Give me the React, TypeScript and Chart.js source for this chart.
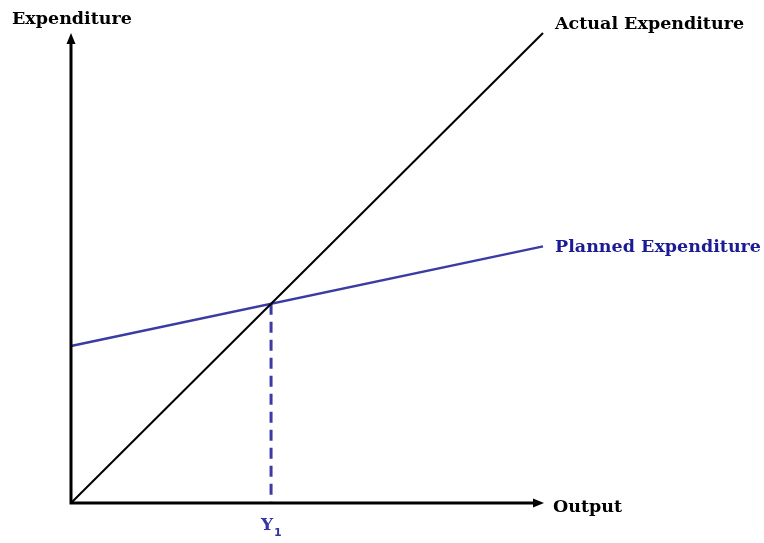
import React, { useEffect, useRef } from "react";
import { Chart, registerables } from "chart.js";

Chart.register(...registerables);

// Data (arbitrary units, 0..100 on both axes)
const actualX = [0, 100];
const actualY = [0, 100];
const plannedX = [0, 100];
const plannedY = [33.4, 54.6];
const xMax = 100;
const yMax = 100;

const axisTitleY = "Expenditure";
const axisTitleX = "Output";
const actualLabel = "Actual Expenditure";
const plannedLabel = "Planned Expenditure";
const eqLabel = "Y";
const eqSub = "1";

// equilibrium: where planned meets actual
const slope = (plannedY[1] - plannedY[0]) / (plannedX[1] - plannedX[0]);
const eqX = plannedY[0] / (1 - slope);

const BLUE_LINE = "#3b3ba3";
const BLUE_TEXT = "#1b1b96";
const FONT = "'DejaVu Serif', serif";

const overlay = {
  id: "overlay",
  afterDraw(chart: any) {
    const { ctx, scales } = chart;
    const xs = scales.x;
    const ys = scales.y;
    const x0 = xs.getPixelForValue(0);
    const y0 = ys.getPixelForValue(0);
    const xEnd = xs.getPixelForValue(xMax);
    const yTop = ys.getPixelForValue(yMax);
    ctx.save();
    // axes
    ctx.strokeStyle = "#000";
    ctx.fillStyle = "#000";
    ctx.lineWidth = 3;
    ctx.lineCap = "butt";
    ctx.beginPath();
    ctx.moveTo(x0, y0 + 1.5);
    ctx.lineTo(x0, yTop + 8);
    ctx.moveTo(x0 - 1.5, y0);
    ctx.lineTo(xEnd - 8, y0);
    ctx.stroke();
    // arrowheads
    ctx.beginPath();
    ctx.moveTo(x0, yTop);
    ctx.lineTo(x0 - 4.5, yTop + 11);
    ctx.lineTo(x0 + 4.5, yTop + 11);
    ctx.closePath();
    ctx.fill();
    ctx.beginPath();
    ctx.moveTo(xEnd + 1, y0);
    ctx.lineTo(xEnd - 10, y0 - 4.5);
    ctx.lineTo(xEnd - 10, y0 + 4.5);
    ctx.closePath();
    ctx.fill();

    // labels
    ctx.font = "bold 17.5px " + FONT;
    ctx.textBaseline = "middle";
    ctx.textAlign = "left";
    ctx.fillStyle = "#000";
    ctx.fillText(axisTitleY, 12, yTop - 14);
    ctx.fillText(axisTitleX, xEnd + 10, y0 + 4);
    ctx.fillText(actualLabel, xEnd + 12, ys.getPixelForValue(actualY[1]) - 9);
    ctx.fillStyle = BLUE_TEXT;
    ctx.fillText(plannedLabel, xEnd + 12, ys.getPixelForValue(plannedY[1]) + 1);

    // Y1 label
    const ex = xs.getPixelForValue(eqX);
    ctx.fillStyle = "#3535a3";
    ctx.font = "bold 17px " + FONT;
    ctx.textAlign = "center";
    ctx.fillText(eqLabel, ex - 4, y0 + 23);
    ctx.font = "bold 11px 'DejaVu Sans', sans-serif";
    ctx.textAlign = "left";
    ctx.fillText(eqSub, ex + 3, y0 + 30);
    ctx.restore();
  },
};

export default function App() {
  const ref = useRef<HTMLCanvasElement>(null);
  useEffect(() => {
    if (!ref.current) return;
    const chart = new Chart(ref.current, {
      type: "scatter",
      data: {
        datasets: [
          {
            label: actualLabel,
            data: actualX.map((x, i) => ({ x, y: actualY[i] })),
            showLine: true,
            borderColor: "#000",
            borderWidth: 2,
            pointRadius: 0,
            clip: false as any,
          },
          {
            label: plannedLabel,
            data: plannedX.map((x, i) => ({ x, y: plannedY[i] })),
            showLine: true,
            borderColor: BLUE_LINE,
            borderWidth: 2.5,
            pointRadius: 0,
            clip: false as any,
          },
          {
            label: "eq",
            data: [
              { x: eqX, y: eqX },
              { x: eqX, y: 0 },
            ],
            showLine: true,
            borderColor: BLUE_LINE,
            borderWidth: 3,
            borderDash: [11, 7],
            pointRadius: 0,
            clip: false as any,
          },
        ],
      },
      options: {
        responsive: false,
        animation: false,
        layout: { padding: { left: 71, right: 221, top: 33, bottom: 40 } },
        plugins: { legend: { display: false }, tooltip: { enabled: false } },
        scales: {
          x: { type: "linear", min: 0, max: xMax, display: false },
          y: { type: "linear", min: 0, max: yMax, display: false },
        },
      },
      plugins: [overlay],
    });
    return () => chart.destroy();
  }, []);
  return (
    <div style={{ position: "absolute", left: 0, top: 0, width: 764, height: 543, background: "#fff" }}>
      <canvas ref={ref} width={764} height={543} />
    </div>
  );
}
